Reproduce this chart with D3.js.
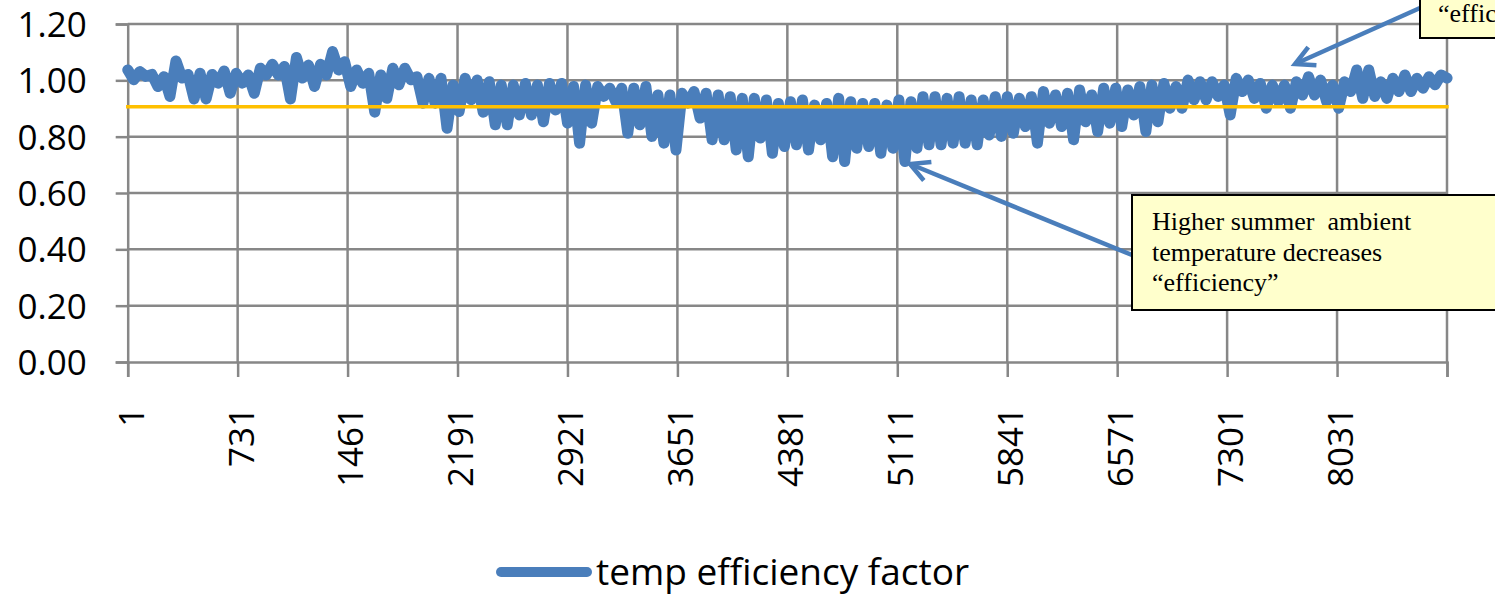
<!DOCTYPE html>
<html>
<head>
<meta charset="utf-8">
<script src="https://cdn.jsdelivr.net/npm/d3@7"></script>
<style>
body { margin: 0; background: #fff; }
svg { display: block; }
.note { font-family: "Liberation Serif", "Times New Roman", serif; font-size: 26px; fill: #000; white-space: pre; }
.lbl { font-family: "Open Sans", sans-serif; font-size: 35px; fill: #000; }
</style>
</head>
<body>
<svg id="chart" width="1495" height="596"></svg>
<script>
// hourly series, read off the picture as one sample every 40 hours
// (upper / lower edge of the band alternating)
var sampleStep = 40;
var tempEfficiency = [
    1.037, 1.002, 1.031, 1.014, 1.021, 0.978, 1.013, 0.943, 1.069, 1.008,
    1.021, 0.934, 1.025, 0.934, 1.021, 0.990, 1.033, 0.954, 1.025, 0.990,
    1.019, 0.954, 1.043, 1.019, 1.057, 1.019, 1.049, 0.934, 1.081, 1.008,
    1.054, 0.978, 1.057, 1.019, 1.102, 1.037, 1.066, 0.978, 1.037, 0.990,
    1.025, 0.887, 1.019, 0.936, 1.043, 0.984, 1.043, 1.002, 1.013, 0.919,
    1.007, 0.919, 1.007, 0.830, 0.983, 0.889, 1.007, 0.931, 1.001, 0.887,
    0.995, 0.842, 0.983, 0.842, 0.983, 0.877, 0.989, 0.877, 0.983, 0.853,
    0.989, 0.895, 0.989, 0.848, 0.978, 0.777, 0.983, 0.848, 0.978, 0.943,
    0.972, 0.925, 0.972, 0.812, 0.972, 0.842, 0.978, 0.801, 0.948, 0.777,
    0.948, 0.753, 0.954, 0.919, 0.960, 0.866, 0.954, 0.789, 0.948, 0.789,
    0.942, 0.753, 0.936, 0.729, 0.936, 0.795, 0.930, 0.741, 0.918, 0.765,
    0.924, 0.771, 0.930, 0.753, 0.912, 0.789, 0.918, 0.729, 0.936, 0.712,
    0.924, 0.759, 0.918, 0.765, 0.918, 0.741, 0.912, 0.759, 0.930, 0.712,
    0.924, 0.759, 0.942, 0.771, 0.942, 0.771, 0.936, 0.777, 0.942, 0.777,
    0.930, 0.771, 0.930, 0.806, 0.942, 0.801, 0.942, 0.812, 0.936, 0.836,
    0.942, 0.777, 0.960, 0.848, 0.948, 0.836, 0.954, 0.789, 0.966, 0.853,
    0.948, 0.818, 0.972, 0.848, 0.972, 0.836, 0.966, 0.877, 0.978, 0.818,
    0.983, 0.853, 0.989, 0.901, 0.978, 0.901, 1.001, 0.931, 0.995, 0.931,
    0.995, 0.943, 0.983, 0.877, 1.007, 0.960, 1.001, 0.936, 0.989, 0.901,
    0.983, 0.925, 0.983, 0.901, 0.995, 0.948, 1.013, 0.948, 1.001, 0.925,
    0.983, 0.901, 0.995, 0.960, 1.037, 0.936, 1.037, 0.943, 0.995, 0.936,
    1.007, 0.960, 1.019, 0.960, 1.007, 0.972, 1.013, 0.984, 1.019, 1.008
];
var thresholdValue = 0.906;   // the orange line
var hoursInYear = 8760;
var xTickLabels = [1, 731, 1461, 2191, 2921, 3651, 4381, 5111, 5841, 6571, 7301, 8031];
var yTicks = [0, 0.2, 0.4, 0.6, 0.8, 1.0, 1.2];
var seriesName = "temp efficiency factor";
var summerNote = ["Higher summer  ambient", "temperature decreases", "\u201cefficiency\u201d"];
var winterNote = ["\u201cefficiency\u201d"];

var blue = "#4a7ebb", gridGray = "#878787";

var svg = d3.select("#chart");

var x = d3.scaleLinear().domain([0.5, hoursInYear + 0.5]).range([127.7, 1447]);
var y = d3.scaleLinear().domain([0, 1.2]).range([362, 24]);

// tick marks sit between categories, every 730 hours
var xTickPos = d3.range(0, 13).map(function(i){ return i * 730 + 0.5; });

// gridlines
svg.append("g").selectAll("line").data(yTicks.slice(1)).enter().append("line")
    .attr("x1", x.range()[0]).attr("x2", x.range()[1])
    .attr("y1", function(d){ return y(d); }).attr("y2", function(d){ return y(d); })
    .attr("stroke", gridGray).attr("stroke-width", 2.5);

svg.append("g").selectAll("line").data(xTickPos.slice(1)).enter().append("line")
    .attr("x1", function(d){ return x(d); }).attr("x2", function(d){ return x(d); })
    .attr("y1", y(1.2)).attr("y2", y(0))
    .attr("stroke", gridGray).attr("stroke-width", 2.5);

// axes
var yAxis = svg.append("g")
    .attr("transform", "translate(" + x.range()[0] + ",0)")
    .call(d3.axisLeft(y).tickValues(yTicks).tickFormat(d3.format(".2f")).tickSize(12));

var xAxis = svg.append("g")
    .attr("transform", "translate(0," + y(0) + ")")
    .call(d3.axisBottom(x).tickValues(xTickPos).tickSize(15).tickFormat(function(d){
        var lab = d + 0.5;
        return xTickLabels.indexOf(lab) >= 0 ? lab : "";
    }));

[yAxis, xAxis].forEach(function(a){
    a.attr("font-size", null).attr("font-family", null);
    a.select(".domain").attr("stroke", gridGray).attr("stroke-width", 2.5);
    a.selectAll(".tick line").attr("stroke", gridGray).attr("stroke-width", 2.5);
    a.selectAll("text").attr("class", "lbl").attr("fill", "#000");
});

yAxis.selectAll(".tick text").attr("x", -41).attr("dy", "0.36em");
xAxis.selectAll(".tick text")
    .attr("transform", "rotate(-90)")
    .attr("x", -45).attr("y", 0).attr("dy", "0.44em")
    .style("text-anchor", "end");

// series
var pts = tempEfficiency.map(function(v, i){ return {h: 1 + i * sampleStep, v: v}; });

var line = d3.line()
    .x(function(d){ return x(d.h); })
    .y(function(d){ return y(d.v); });

svg.append("path").datum(pts)
    .attr("d", line)
    .attr("fill", "none")
    .attr("stroke", blue)
    .attr("stroke-width", 11)
    .attr("stroke-linejoin", "round")
    .attr("stroke-linecap", "round");

svg.append("path").datum([{h: 1, v: thresholdValue}, {h: hoursInYear, v: thresholdValue}])
    .attr("d", line)
    .attr("fill", "none")
    .attr("stroke", "#ffc000")
    .attr("stroke-width", 3.5)
    .attr("stroke-linecap", "square");

// arrow head marker
svg.append("defs").append("marker")
    .attr("id", "head")
    .attr("markerUnits", "userSpaceOnUse")
    .attr("markerWidth", 30).attr("markerHeight", 30)
    .attr("refX", 22).attr("refY", 12)
    .attr("orient", "auto")
  .append("path")
    .attr("d", "M3,2 L22,12 L3,22")
    .attr("fill", "none")
    .attr("stroke", blue)
    .attr("stroke-width", 4.5);

function note(box, lines, lineX, firstBase, arrow){
    svg.append("line")
        .attr("x1", arrow[0]).attr("y1", arrow[1])
        .attr("x2", arrow[2]).attr("y2", arrow[3])
        .attr("stroke", blue).attr("stroke-width", 4.5)
        .attr("marker-end", "url(#head)");
    svg.append("rect")
        .attr("x", box[0]).attr("y", box[1])
        .attr("width", box[2]).attr("height", box[3])
        .attr("fill", "#ffffcc").attr("stroke", "#000").attr("stroke-width", 2);
    svg.append("g").selectAll("text").data(lines).enter().append("text")
        .attr("class", "note")
        .attr("x", lineX)
        .attr("y", function(d, i){ return firstBase + i * 30.5; })
        .text(function(d){ return d; });
}

note([1132, 195, 400, 115], summerNote, 1152, 230, [1132, 255, 910, 164]);
note([1420, -80, 120, 118], winterNote, 1438, 22, [1420, 8, 1295, 64]);

// legend
var lg = svg.append("g");
lg.append("line")
    .attr("x1", 501).attr("x2", 587).attr("y1", 572).attr("y2", 572)
    .attr("stroke", blue).attr("stroke-width", 10).attr("stroke-linecap", "round");
lg.append("text")
    .attr("class", "lbl")
    .attr("x", 596).attr("y", 585)
    .style("font-size", "37px")
    .text(seriesName);
</script>
</body>
</html>
